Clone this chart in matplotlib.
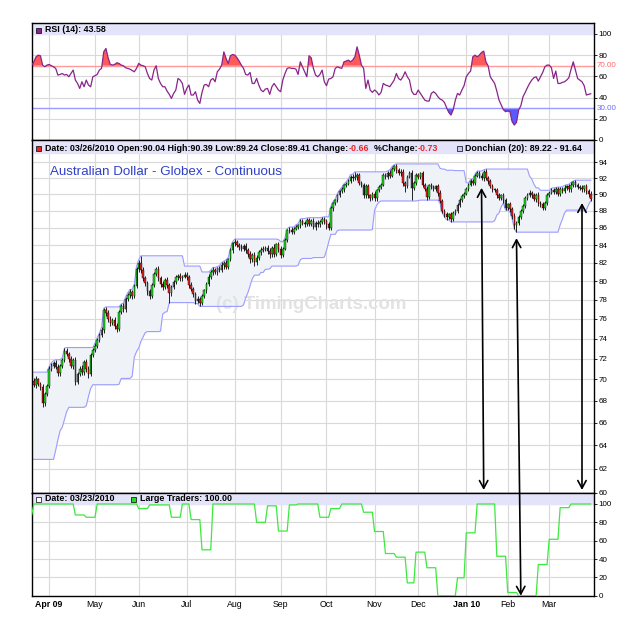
import numpy as np
import pandas as pd
import matplotlib
matplotlib.use("Agg")
import matplotlib.pyplot as plt
from matplotlib.patches import ConnectionPatch
from matplotlib.ticker import NullLocator

plt.rcParams["font.family"] = ["Liberation Sans", "DejaVu Sans"]

# sessions on the chart (no bar on these US holidays)
holidays = ["2009-04-10", "2009-05-25", "2009-07-03", "2009-09-07", "2009-11-26",
            "2009-12-25", "2010-01-01", "2010-01-18", "2010-02-15"]
dates = pd.bdate_range("2009-03-20", "2010-03-26", freq="C", holidays=holidays)

# daily closes (open = previous close)
first_open = 69.4
close_px = [
    69.9, 69.5, 70.0, 69.6, 69.3, 67.8, 68.6, 69.4, 71.0, 71.3,
    71.6, 71.2, 70.6, 71.3, 71.9, 72.8, 72.5, 72.0, 71.3, 71.9,
    69.8, 70.5, 71.0, 70.7, 71.7, 71.0, 70.5, 72.4, 72.9, 73.3,
    73.9, 74.4, 74.9, 76.9, 76.6, 76.0, 75.6, 75.9, 75.3, 75.0,
    76.7, 77.3, 77.0, 78.1, 78.5, 78.8, 78.4, 79.5, 81.3, 82.0,
    81.2, 80.3, 79.8, 78.9, 78.4, 79.6, 80.8, 81.3, 80.3, 79.7,
    79.4, 80.1, 79.6, 78.7, 79.4, 79.9, 80.4, 80.6, 80.3, 80.5,
    80.7, 80.4, 79.6, 79.2, 78.6, 77.9, 78.1, 77.7, 78.4, 79.0,
    79.7, 80.5, 81.0, 81.2, 81.0, 81.4, 81.2, 81.8, 82.0, 81.6,
    82.4, 83.4, 84.2, 84.4, 84.0, 83.8, 83.6, 83.9, 83.4, 83.0,
    82.4, 82.9, 82.1, 82.6, 83.2, 83.5, 83.6, 83.7, 83.3, 83.0,
    83.7, 83.0, 84.1, 83.6, 82.9, 83.6, 84.6, 85.7, 85.8, 85.5,
    85.9, 86.1, 86.3, 86.8, 86.6, 86.4, 86.9, 86.5, 86.8, 86.1,
    86.6, 86.4, 86.7, 87.0, 86.8, 86.5, 86.0, 88.3, 88.9, 89.3,
    89.9, 90.4, 90.6, 91.1, 91.3, 91.7, 92.2, 92.0, 92.1, 92.4,
    91.4, 91.1, 89.9, 91.0, 89.9, 89.6, 90.1, 89.5, 90.5, 90.9,
    91.2, 92.4, 92.2, 92.7, 92.3, 93.2, 93.5, 93.0, 92.6, 92.8,
    91.4, 91.0, 92.2, 92.7, 90.8, 91.4, 92.4, 92.2, 92.6, 91.2,
    90.7, 89.7, 91.1, 90.9, 90.7, 91.0, 90.2, 89.2, 88.0, 87.6,
    87.3, 87.6, 87.1, 87.8, 88.0, 88.7, 89.3, 89.8, 90.1, 90.7,
    91.2, 91.6, 91.4, 92.3, 92.6, 92.3, 92.0, 92.8, 92.0, 91.6,
    91.0, 90.6, 90.5, 89.9, 89.6, 89.9, 89.3, 88.4, 88.8, 88.2,
    87.4, 86.3, 86.6, 87.3, 88.0, 88.6, 89.6, 89.9, 90.2, 89.9,
    89.4, 89.9, 89.0, 88.8, 88.4, 89.0, 89.9, 90.2, 90.5, 90.3,
    90.6, 90.1, 90.7, 90.4, 90.8, 91.0, 90.6, 91.2, 91.5, 91.1,
    90.9, 90.8, 90.6, 91.0, 90.4, 90.04, 89.41,
]
# wick lengths above / below the body, in hundredths
upper_wick = [
    20, 25, 30, 15, 20, 25, 20, 15, 25, 30, 20, 30, 25, 15, 20, 25, 30, 20, 25, 20,
    30, 20, 25, 35, 20, 30, 25, 15, 20, 25, 20, 15, 25, 20, 35, 30, 25, 20, 30, 25,
    20, 25, 35, 20, 25, 30, 25, 20, 30, 35, 80, 30, 25, 20, 30, 20, 25, 30, 35, 25,
    30, 20, 35, 25, 20, 25, 30, 20, 25, 20, 25, 30, 25, 30, 20, 25, 35, 20, 25, 20,
    20, 25, 20, 30, 25, 20, 30, 25, 20, 35, 20, 25, 20, 30, 25, 20, 35, 25, 30, 25,
    30, 20, 35, 25, 20, 25, 30, 20, 35, 40, 25, 45, 20, 30, 35, 20, 25, 20, 30, 25,
    20, 25, 20, 25, 30, 20, 25, 30, 20, 35, 25, 30, 20, 25, 30, 25, 20, 25, 20, 15,
    20, 15, 25, 20, 25, 20, 25, 30, 70, 20, 25, 30, 35, 25, 30, 20, 25, 30, 20, 25,
    20, 25, 30, 20, 35, 25, 20, 30, 25, 30, 35, 30, 20, 25, 30, 20, 25, 30, 20, 35,
    25, 30, 20, 25, 30, 20, 25, 30, 25, 20, 25, 20, 30, 25, 20, 25, 20, 25, 20, 25,
    20, 25, 30, 20, 30, 25, 30, 25, 35, 25, 30, 25, 20, 30, 25, 20, 30, 25, 20, 30,
    25, 30, 20, 25, 20, 25, 20, 25, 30, 25, 30, 25, 35, 25, 30, 20, 25, 20, 25, 30,
    25, 30, 20, 25, 30, 20, 25, 30, 14, 25, 30, 25, 30, 20, 25, 30, 35,
]
lower_wick = [
    25, 20, 30, 20, 25, 40, 25, 20, 25, 20, 25, 20, 30, 25, 20, 25, 20, 30, 25, 30,
    30, 25, 20, 25, 30, 25, 40, 20, 25, 20, 25, 20, 25, 30, 25, 30, 35, 25, 30, 30,
    25, 20, 30, 25, 20, 30, 35, 25, 20, 25, 30, 25, 30, 40, 30, 25, 20, 25, 30, 35,
    40, 25, 30, 100, 30, 25, 20, 25, 30, 25, 20, 25, 30, 25, 35, 30, 25, 40, 25, 20,
    25, 20, 25, 30, 25, 35, 20, 25, 50, 30, 25, 20, 25, 30, 25, 35, 30, 25, 30, 35,
    40, 30, 45, 35, 25, 30, 25, 30, 35, 50, 30, 35, 25, 40, 30, 25, 20, 25, 30, 25,
    25, 20, 25, 30, 25, 30, 20, 25, 30, 25, 30, 25, 35, 25, 30, 60, 25, 20, 25, 20,
    25, 20, 25, 30, 25, 20, 25, 30, 25, 30, 30, 25, 40, 35, 30, 40, 25, 30, 25, 20,
    25, 20, 30, 25, 30, 20, 25, 30, 25, 30, 35, 70, 25, 20, 150, 25, 20, 25, 30, 25,
    30, 40, 25, 30, 25, 30, 35, 30, 25, 30, 35, 25, 40, 25, 30, 25, 20, 25, 30, 20,
    25, 20, 30, 25, 20, 30, 25, 30, 25, 30, 25, 30, 25, 30, 25, 30, 35, 30, 25, 30,
    35, 40, 80, 25, 30, 25, 20, 25, 20, 30, 25, 30, 35, 30, 25, 30, 25, 25, 20, 25,
    30, 25, 30, 25, 20, 30, 25, 30, 25, 20, 30, 25, 35, 25, 30, 35, 17,
]
# 19 sessions before the first bar, read from the left end of the Donchian band
seed_high = [65.2, 64.8, 64.9, 64.6, 64.4, 64.2, 64.3, 64.6, 64.9, 64.8,
             64.5, 65.0, 65.9, 66.5, 67.2, 68.0, 69.1, 70.7, 70.5]
seed_low = [63.6, 63.4, 63.5, 63.3, 63.2, 63.4, 63.0, 63.1, 63.3, 63.2,
            62.8, 63.6, 64.5, 65.3, 65.6, 66.3, 67.0, 68.3, 69.0]

# RSI (14), one value per session
rsi_vals = [
    70.6, 73.7, 78.4, 80.0, 79.4, 70.6, 69.0, 70.6, 71.2, 70.0,
    69.0, 67.5, 61.2, 61.8, 62.7, 61.2, 61.8, 59.6, 62.7, 65.9,
    56.5, 53.3, 48.6, 54.9, 50.2, 56.5, 51.8, 50.2, 59.6, 60.6,
    61.8, 65.9, 67.5, 83.1, 86.3, 77.5, 71.2, 70.6, 71.2, 72.8,
    72.2, 70.6, 70.0, 68.1, 67.5, 66.8, 65.6, 64.3, 67.5, 72.2,
    70.6, 70.0, 69.0, 62.7, 58.0, 56.5, 65.9, 70.0, 58.0, 53.3,
    50.2, 50.2, 46.1, 43.0, 39.2, 43.9, 47.1, 58.0, 56.5, 53.3,
    43.0, 48.6, 51.8, 42.4, 42.4, 45.5, 37.6, 34.5, 44.9, 51.8,
    52.4, 50.2, 56.5, 58.0, 54.9, 64.3, 66.8, 70.6, 83.1, 76.9,
    72.2, 79.4, 80.6, 80.0, 77.5, 74.4, 70.6, 67.5, 61.8, 61.2,
    63.7, 53.3, 53.3, 58.0, 51.8, 47.1, 45.5, 48.0, 48.6, 43.0,
    50.2, 53.3, 50.2, 47.1, 45.5, 56.5, 62.7, 67.5, 68.1, 67.5,
    67.5, 66.8, 61.8, 73.7, 69.0, 64.3, 59.6, 79.4, 77.5, 67.5,
    61.2, 59.6, 61.8, 65.9, 54.9, 51.2, 57.4, 58.0, 59.6, 67.5,
    69.0, 68.1, 67.5, 73.7, 74.4, 75.3, 73.7, 75.3, 78.4, 87.8,
    80.0, 70.6, 67.5, 48.6, 56.5, 47.1, 44.9, 47.1, 45.5, 42.4,
    44.9, 53.3, 51.8, 51.2, 50.2, 53.3, 56.5, 62.7, 58.0, 56.5,
    59.6, 64.3, 59.6, 56.5, 46.1, 43.0, 43.0, 47.1, 43.9, 40.8,
    37.6, 36.7, 36.7, 43.9, 45.5, 43.9, 40.8, 38.6, 37.6, 35.4,
    30.4, 26.0, 23.5, 28.3, 37.6, 43.9, 42.4, 47.1, 51.2, 59.6,
    62.7, 65.0, 78.4, 80.0, 78.4, 80.0, 82.5, 83.8, 73.7, 70.0,
    59.6, 56.5, 53.3, 46.1, 37.6, 33.0, 28.6, 26.7, 27.3, 26.7,
    17.3, 14.1, 16.6, 28.3, 32.3, 40.8, 44.9, 49.3, 53.3, 56.5,
    58.7, 59.6, 55.5, 59.6, 63.7, 69.0, 70.6, 70.6, 68.1, 58.0,
    65.0, 53.3, 53.3, 54.3, 54.9, 56.5, 58.7, 66.8, 73.7, 65.9,
    58.0, 56.5, 54.9, 51.2, 42.4, 43.0, 43.6,
]

# Large Traders, weekly (week starting Monday)
lt_weeks = pd.date_range("2009-03-16", "2010-03-22", freq="W-MON")
lt_values = [88, 100, 100, 100, 100, 88, 85.5, 100, 100, 100, 100, 95, 99, 99,
             85.5, 100, 83, 50, 100, 100, 100, 100, 80, 98, 70.5, 99, 100, 100,
             85.5, 95, 100, 100, 91, 70, 46, 42, 14, 47.5, 30.5, 0, 0, 19.5,
             68.5, 100, 100, 43, 3.5, 0, 0, 34, 61.5, 96, 100, 100]

# arrows: (date, price at top) -> (date, value at bottom)
arrows = [("2010-01-13", 90.8, "2010-01-14", 60.25, "main"),
          ("2010-02-05", 84.8, "2010-02-09", 0.0, "lt"),
          ("2010-03-22", 88.95, "2010-03-22", 60.25, "main")]

x = np.arange(len(dates))
close = np.array(close_px)
open_ = np.r_[first_open, close[:-1]]
high = np.maximum(open_, close) + np.array(upper_wick) / 100
low = np.minimum(open_, close) - np.array(lower_wick) / 100

dc_up = pd.Series(seed_high + list(high)).rolling(20).max().values[19:]
dc_lo = pd.Series(seed_low + list(low)).rolling(20).min().values[19:]

rsi = np.array(rsi_vals)
lt = pd.Series(lt_values, index=lt_weeks).reindex(dates, method="ffill").values

month_idx = [i for i in range(1, len(dates)) if dates[i].month != dates[i - 1].month]
month_lbl = [dates[i].strftime("%b %y") if dates[i].month in (1, 4) else dates[i].strftime("%b")
             for i in month_idx]

fig = plt.figure(figsize=(6.25, 6.23), dpi=100)
L, W = 0.0507, 0.8997
ax_rsi = fig.add_axes([L, 0.7753, W, 0.1873])
ax = fig.add_axes([L, 0.2087, W, 0.5666])
ax_lt = fig.add_axes([L, 0.0438, W, 0.1649])
band = "#e3e3fa"


def style(a):
    a.set_xlim(0, 257.5)
    a.yaxis.tick_right()
    a.yaxis.set_minor_locator(NullLocator())
    a.tick_params(axis="y", which="both", length=2.5, width=0.6, pad=1, labelsize=5.8)
    a.set_xticks(month_idx)
    a.tick_params(axis="x", length=0, labelbottom=False)
    a.grid(True, color="#d9d9d9", lw=0.8)
    a.set_axisbelow(True)
    for s in a.spines.values():
        s.set_color("black")
        s.set_linewidth(1.0)


# RSI panel
style(ax_rsi)
ax_rsi.set_ylim(0, 110)
ax_rsi.set_yticks([0, 20, 40, 60, 80, 100])
ax_rsi.axhspan(100, 110, color=band, zorder=1)
ax_rsi.fill_between(x, 70, rsi, where=rsi > 70, interpolate=True, color="#ff5a5a", lw=0, zorder=2)
ax_rsi.fill_between(x, 30, rsi, where=rsi < 30, interpolate=True, color="#5a5aff", lw=0, zorder=2)
ax_rsi.axhline(70, color="#ff9a9a", lw=1.0, zorder=2)
ax_rsi.axhline(30, color="#9a9aff", lw=1.0, zorder=2)
ax_rsi.plot(x, rsi, color="#8a238a", lw=0.9, zorder=3)
rt = ax_rsi.get_yaxis_transform()
ax_rsi.text(1.004, 70, "70.00", color="#ff6a6a", fontsize=5.8, va="center", transform=rt)
ax_rsi.text(1.004, 30, "30.00", color="#6a6aff", fontsize=5.8, va="center", transform=rt)
ax_rsi.plot([0.012], [0.943], marker="s", ms=3.6, mfc="#8a238a", mec="black", mew=0.5,
            transform=ax_rsi.transAxes, clip_on=False)
ax_rsi.text(0.0237, 0.943, "RSI (14): 43.58", fontsize=6.4, fontweight="bold", va="center",
            transform=ax_rsi.transAxes)

# price panel
style(ax)
ax.set_yscale("log")
ax.set_ylim(60, 96.9)
pticks = list(range(60, 95, 2))
ax.set_yticks(pticks, [str(t) for t in pticks])
ax.yaxis.set_minor_locator(NullLocator())
ax.axhspan(95.2, 96.9, color=band, zorder=1)
ax.fill_between(x, dc_lo, dc_up, color="#eff3f8", lw=0, zorder=1)
ax.plot(x, dc_up, color="#9c9cff", lw=0.8, zorder=2)
ax.plot(x, dc_lo, color="#9c9cff", lw=0.8, zorder=2)
ax.text(0.497, 0.533, "(c) TimingCharts.com", fontsize=13.4, fontweight="bold",
        color="#e2e2e2", ha="center", va="center", transform=ax.transAxes, zorder=1.5)
ax.vlines(x, low, high, color="black", lw=0.6, zorder=3)
body = close - open_
body = np.where(np.abs(body) < 0.03, 0.03, body)
ax.bar(x, body, bottom=open_, width=0.72,
       color=np.where(close >= open_, "#1ee01e", "#ee2222"),
       edgecolor="black", linewidth=0.3, zorder=4)
ax.text(0.0325, 0.91, "Australian Dollar - Globex - Continuous", fontsize=9.6,
        color="#3040c8", va="center", transform=ax.transAxes)

hy = 0.977
ax.plot([0.012], [hy], marker="s", ms=3.6, mfc="#ee2222", mec="black", mew=0.5,
        transform=ax.transAxes, clip_on=False)
hdr = dict(fontsize=6.4, fontweight="bold", va="center")
t = ax.text(0.0237, hy, "Date: 03/26/2010 Open:90.04 High:90.39 Low:89.24 Close:89.41 Change:",
            transform=ax.transAxes, **hdr)
for s, c in [("-0.66", "#ee2222"), ("  %Change:", "black"), ("-0.73", "#ee2222")]:
    t = ax.annotate(s, xycoords=t, xy=(1, 0.5), color=c, **hdr)
ax.plot([0.7603], [hy], marker="s", ms=3.6, mfc="#c8c8f4", mec="black", mew=0.5,
        transform=ax.transAxes, clip_on=False)
ax.text(0.7706, hy, "Donchian (20): 89.22 - 91.64", transform=ax.transAxes, **hdr)

# large traders panel
style(ax_lt)
ax_lt.set_ylim(0, 112)
ax_lt.set_yticks([0, 20, 40, 60, 80, 100])
ax_lt.axhspan(100, 112, color=band, zorder=1)
ax_lt.plot(x, lt, color="#3ee83e", lw=0.9, zorder=3)
ax_lt.tick_params(axis="x", labelbottom=True, labelsize=6.3, pad=3)
ax_lt.set_xticklabels(month_lbl)
for lab in ax_lt.get_xticklabels():
    if " " in lab.get_text():
        lab.set_fontweight("bold")
ax_lt.plot([0.012], [0.942], marker="s", ms=3.6, mfc="white", mec="black", mew=0.5,
           transform=ax_lt.transAxes, clip_on=False)
ax_lt.text(0.0237, 0.942, "Date: 03/23/2010", transform=ax_lt.transAxes, **hdr)
ax_lt.plot([0.181], [0.942], marker="s", ms=3.6, mfc="#22dd22", mec="black", mew=0.5,
           transform=ax_lt.transAxes, clip_on=False)
ax_lt.text(0.1926, 0.942, "Large Traders: 100.00", transform=ax_lt.transAxes, **hdr)

# arrows
pos = {d: i for i, d in enumerate(dates.strftime("%Y-%m-%d"))}
for d1, v1, d2, v2, where in arrows:
    con = ConnectionPatch(xyA=(pos[d1], v1), coordsA=ax.transData,
                          xyB=(pos[d2], v2), coordsB=(ax if where == "main" else ax_lt).transData,
                          arrowstyle="<->,head_length=0.55,head_width=0.3",
                          mutation_scale=10, lw=1.2, color="black", shrinkA=0, shrinkB=0)
    fig.add_artist(con)

fig.savefig("out.png", dpi=100)
